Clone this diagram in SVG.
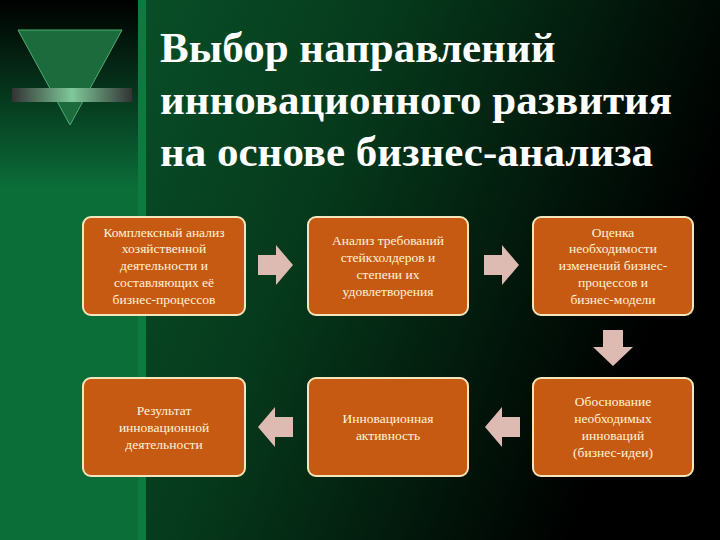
<svg xmlns="http://www.w3.org/2000/svg" width="720" height="540" viewBox="0 0 720 540">
<defs>
<linearGradient id="bg" x1="0" y1="0" x2="1" y2="0.3">
<stop offset="0" stop-color="#0a5a2e"/><stop offset="0.5" stop-color="#063a1c"/><stop offset="1" stop-color="#000000"/>
</linearGradient>
<linearGradient id="left" x1="0" y1="0" x2="0" y2="1">
<stop offset="0" stop-color="#000000"/><stop offset="0.35" stop-color="#0b6e39"/><stop offset="1" stop-color="#0b6e39"/>
</linearGradient>
<linearGradient id="bar" x1="0" y1="0" x2="1" y2="0">
<stop offset="0" stop-color="#333"/><stop offset="0.5" stop-color="#7fc99a"/><stop offset="1" stop-color="#333"/>
</linearGradient>
<style>
.box{fill:#C65A12;stroke:#F3E6BC;stroke-width:2}
.t{font-family:"Liberation Serif",serif;font-size:13.5px;fill:#FFF3D8;text-anchor:middle}
.h{font-family:"Liberation Serif",serif;font-size:43px;font-weight:bold;fill:#ffffff}
.ar{fill:#DDBBB2}
</style>
</defs>
<rect width="720" height="540" fill="url(#bg)"/>
<rect x="0" y="0" width="138" height="540" fill="url(#left)"/>
<rect x="138" y="0" width="8" height="540" fill="#0d7a40"/>
<polygon points="18,30 122,30 70,125" fill="#1b6b3d" stroke="#4fae73" stroke-width="1"/>
<rect x="12" y="88" width="120" height="14" fill="url(#bar)"/>
<g id="title">
<text class="h" x="160" y="62">Выбор направлений</text>
<text class="h" x="160" y="114">инновационного развития</text>
<text class="h" x="160" y="166">на основе бизнес-анализа</text>
</g>
<g id="n1"><rect class="box" x="83" y="217" width="162" height="98" rx="8"/>
<text class="t" x="164" y="237">Комплексный анализ</text><text class="t" x="164" y="253">хозяйственной</text><text class="t" x="164" y="270">деятельности и</text><text class="t" x="164" y="287">составляющих её</text><text class="t" x="164" y="304">бизнес-процессов</text></g>
<g id="n2"><rect class="box" x="308" y="217" width="160" height="98" rx="8"/>
<text class="t" x="388" y="245">Анализ требований</text><text class="t" x="388" y="262">стейкхолдеров и</text><text class="t" x="388" y="279">степени их</text><text class="t" x="388" y="296">удовлетворения</text></g>
<g id="n3"><rect class="box" x="533" y="217" width="160" height="98" rx="8"/>
<text class="t" x="613" y="237">Оценка</text><text class="t" x="613" y="253">необходимости</text><text class="t" x="613" y="270">изменений бизнес-</text><text class="t" x="613" y="287">процессов и</text><text class="t" x="613" y="304">бизнес-модели</text></g>
<g id="n4"><rect class="box" x="533" y="378" width="160" height="98" rx="8"/>
<text class="t" x="613" y="406">Обоснование</text><text class="t" x="613" y="423">необходимых</text><text class="t" x="613" y="440">инноваций</text><text class="t" x="613" y="457">(бизнес-идеи)</text></g>
<g id="n5"><rect class="box" x="308" y="378" width="160" height="98" rx="8"/>
<text class="t" x="388" y="423">Инновационная</text><text class="t" x="388" y="440">активность</text></g>
<g id="n6"><rect class="box" x="83" y="378" width="162" height="98" rx="8"/>
<text class="t" x="164" y="415">Результат</text><text class="t" x="164" y="432">инновационной</text><text class="t" x="164" y="449">деятельности</text></g>
<g id="connectors">
<polygon class="ar" points="258,255 276,255 276,245 293,265 276,285 276,275 258,275"/>
<polygon class="ar" points="484,255 502,255 502,245 519,265 502,285 502,275 484,275"/>
<polygon class="ar" points="603,330 623,330 623,347 633,347 613,366 593,347 603,347"/>
<polygon class="ar" points="520,417 502,417 502,407 485,427 502,447 502,437 520,437"/>
<polygon class="ar" points="293,417 275,417 275,407 258,427 275,447 275,437 293,437"/>
</g>
</svg>
